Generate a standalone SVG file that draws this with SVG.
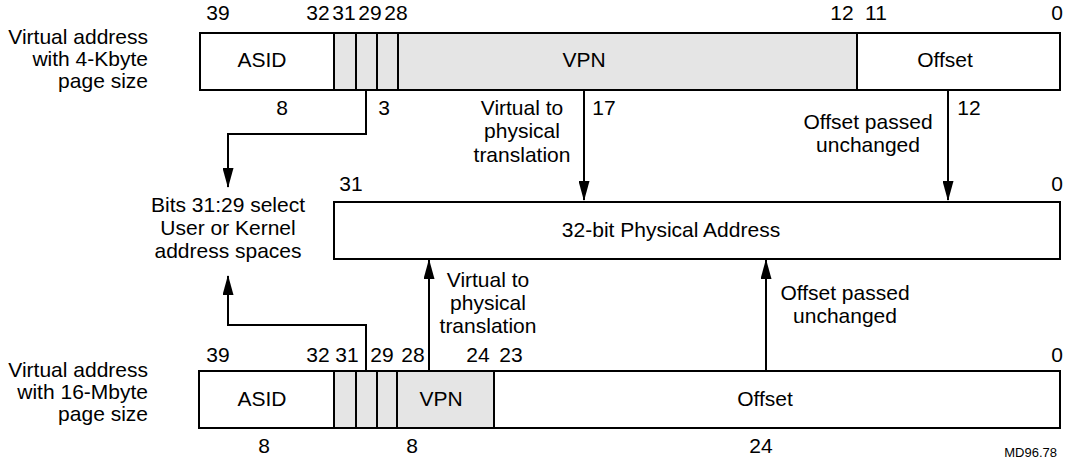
<svg xmlns="http://www.w3.org/2000/svg" width="1068" height="460" viewBox="0 0 1068 460">
  <style>
    text { font-family: "Liberation Sans", Arial, sans-serif; font-size: 21px; fill: #000; }
    .c { text-anchor: middle; }
    .r { text-anchor: end; }
    .box { fill: #fff; stroke: #000; stroke-width: 2; }
    .gray { fill: #e5e5e5; stroke: #000; stroke-width: 2; }
    .wire { fill: none; stroke: #000; stroke-width: 2; }
    .tag { font-size: 13px; }
  </style>
  <defs>
    <marker id="arrow" markerUnits="userSpaceOnUse" markerWidth="20" markerHeight="11" refX="19" refY="5.5" orient="auto">
      <path d="M0,0 L20,5.5 L0,11 z" fill="#000"/>
    </marker>
  </defs>
  <rect width="1068" height="460" fill="#fff"/>

  <!-- 40-bit virtual address, 4-Kbyte pages -->
  <g id="va4k">
    <text class="r" x="148" y="44">Virtual address</text>
    <text class="r" x="148" y="66">with 4-Kbyte</text>
    <text class="r" x="148" y="88">page size</text>
    <rect class="box" x="200" y="33" width="134" height="57"/>
    <rect class="gray" x="334" y="33" width="22" height="57"/>
    <rect class="gray" x="356" y="33" width="21" height="57"/>
    <rect class="gray" x="377" y="33" width="21" height="57"/>
    <rect class="gray" x="398" y="33" width="459" height="57"/>
    <rect class="box" x="857" y="33" width="203" height="57"/>
    <text class="c" x="262" y="67">ASID</text>
    <text class="c" x="584" y="67">VPN</text>
    <text class="c" x="945" y="67">Offset</text>
    <text class="c" x="218" y="20">39</text>
    <text class="c" x="318" y="20">32</text>
    <text class="c" x="344" y="20">31</text>
    <text class="c" x="370" y="20">29</text>
    <text class="c" x="396" y="20">28</text>
    <text class="c" x="842" y="20">12</text>
    <text class="c" x="876" y="20">11</text>
    <text class="c" x="1057" y="20">0</text>
    <text class="c" x="282" y="115">8</text>
    <text class="c" x="384" y="115">3</text>
    <text class="c" x="604" y="115">17</text>
    <text class="c" x="969" y="115">12</text>
  </g>

  <!-- 32-bit physical address -->
  <g id="pa">
    <rect class="box" x="334" y="202" width="726" height="57"/>
    <text class="c" x="671" y="237">32-bit Physical Address</text>
    <text class="c" x="351" y="191">31</text>
    <text class="c" x="1057" y="191">0</text>
  </g>

  <!-- address space select note -->
  <g id="select-note">
    <text class="c" x="228" y="212">Bits 31:29 select</text>
    <text class="c" x="228" y="235">User or Kernel</text>
    <text class="c" x="228" y="258">address spaces</text>
  </g>

  <!-- 40-bit virtual address, 16-Mbyte pages -->
  <g id="va16m">
    <text class="r" x="148" y="377">Virtual address</text>
    <text class="r" x="148" y="399">with 16-Mbyte</text>
    <text class="r" x="148" y="421">page size</text>
    <rect class="box" x="199" y="371" width="135" height="57"/>
    <rect class="gray" x="334" y="371" width="22" height="57"/>
    <rect class="gray" x="356" y="371" width="21" height="57"/>
    <rect class="gray" x="377" y="371" width="20" height="57"/>
    <rect class="gray" x="397" y="371" width="97" height="57"/>
    <rect class="box" x="494" y="371" width="566" height="57"/>
    <text class="c" x="262" y="406">ASID</text>
    <text class="c" x="441" y="406">VPN</text>
    <text class="c" x="765" y="406">Offset</text>
    <text class="c" x="218" y="362">39</text>
    <text class="c" x="318" y="362">32</text>
    <text class="c" x="347" y="362">31</text>
    <text class="c" x="382" y="362">29</text>
    <text class="c" x="413" y="362">28</text>
    <text class="c" x="478" y="362">24</text>
    <text class="c" x="511" y="362">23</text>
    <text class="c" x="1057" y="362">0</text>
    <text class="c" x="264" y="453">8</text>
    <text class="c" x="412" y="453">8</text>
    <text class="c" x="761" y="453">24</text>
  </g>

  <!-- connectors and their labels -->
  <g id="connectors">
    <path class="wire" d="M366,90 V134 H228 V187" marker-end="url(#arrow)"/>
    <path class="wire" d="M584,90 V200" marker-end="url(#arrow)"/>
    <path class="wire" d="M948,90 V200" marker-end="url(#arrow)"/>
    <path class="wire" d="M366,371 V325 H228 V276" marker-end="url(#arrow)"/>
    <path class="wire" d="M429,371 V260" marker-end="url(#arrow)"/>
    <path class="wire" d="M766,371 V260" marker-end="url(#arrow)"/>

    <text class="c" x="522" y="115">Virtual to</text>
    <text class="c" x="522" y="138">physical</text>
    <text class="c" x="522" y="162">translation</text>
    <text class="c" x="868" y="129">Offset passed</text>
    <text class="c" x="868" y="152">unchanged</text>

    <text class="c" x="488" y="287">Virtual to</text>
    <text class="c" x="488" y="310">physical</text>
    <text class="c" x="488" y="333">translation</text>
    <text class="c" x="845" y="300">Offset passed</text>
    <text class="c" x="845" y="323">unchanged</text>
  </g>

  <text class="r tag" x="1057" y="457">MD96.78</text>
</svg>
